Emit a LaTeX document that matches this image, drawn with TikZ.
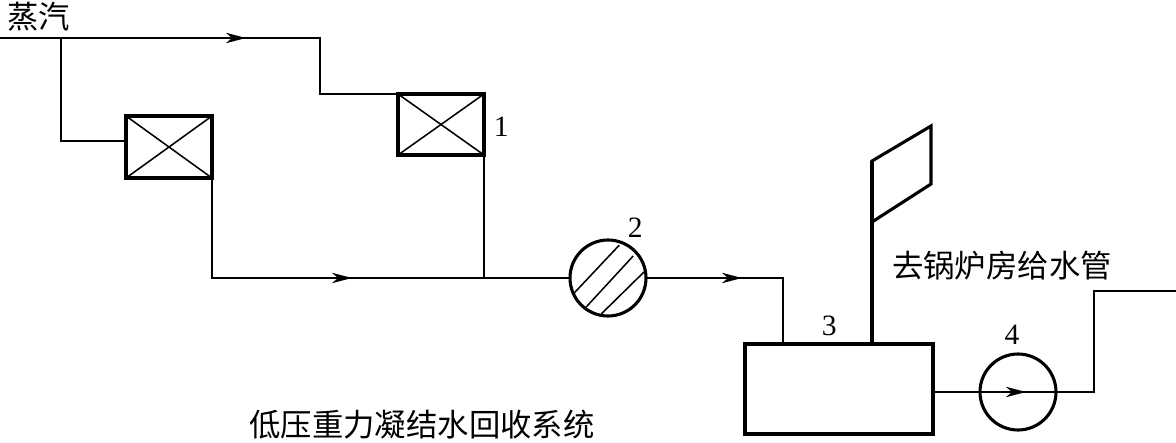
\documentclass[tikz,border=0pt]{standalone}
\usepackage{fontspec}
\setmainfont{Liberation Serif}
\newfontfamily\cjk{Noto Sans CJK SC}
\usetikzlibrary{
    arrows.meta,
    positioning
}
\tikzset{
    % Trap box style
    trapbox/.style={
        rectangle,
        minimum width=2.15cm,
        minimum height=1.55cm,
        outer sep=0pt,
        draw=black,
        line width=2.2pt
    },
    % Round equipment style
    roundunit/.style={
        circle,
        minimum size=1.9cm,
        inner sep=0pt,
        outer sep=0pt,
        draw=black,
        line width=2.2pt
    },
    % Pipe styles
    pipe/.style={
        line width=1.1pt,
        color=black
    },
    flow/.style={
        -{Stealth[length=5mm, width=2.6mm, inset=1.5mm]},
        line width=1.1pt,
        color=black
    },
    heavypipe/.style={
        line width=2.2pt,
        line join=miter,
        color=black
    },
    % Label styles
    number/.style={
        font=\fontsize{21}{24}\selectfont,
        inner sep=0pt
    },
    caption/.style={
        font=\cjk\fontsize{22.3}{26}\selectfont,
        inner sep=0pt
    }
}
\begin{document}
\begin{tikzpicture}
        \useasboundingbox (0, 0) rectangle (29.4, -11.05);
        
        % Equipment
        \node[trapbox] (trapA) at (4.225, -3.675) {};
        \node[trapbox, minimum height=1.525cm] (trapB) at (11.025, -3.1125) {};
        \node[roundunit] (filter) at (15.2, -6.95) {};
        \node[trapbox, minimum width=4.7cm, minimum height=2.25cm] (tank) at (20.975, -9.725) {};
        \node[roundunit] (pump) at (25.45, -9.8) {};
        
        % Trap crosses
        \draw[pipe] (trapA.north west) -- (trapA.south east);
        \draw[pipe] (trapA.south west) -- (trapA.north east);
        \draw[pipe] (trapB.north west) -- (trapB.south east);
        \draw[pipe] (trapB.south west) -- (trapB.north east);
        
        % Filter hatching
        \draw[pipe] (14.35, -7.33) -- (15.48, -6.13);
        \draw[pipe] (14.65, -7.68) -- (15.83, -6.4);
        \draw[pipe] (15.03, -7.85) -- (16.1, -6.8);
        
        % Pipe points
        \coordinate (steam) at (0, -0.95);
        \coordinate (branch) at (1.525, -0.95);
        \coordinate (arrowA) at (6.15, -0.95);
        \coordinate (drop) at (8, -0.95);
        \coordinate (entryA) at (3.15, -3.525);
        \coordinate (arrowB) at (8.8, -6.95);
        \coordinate (merge) at (12.1, -6.95);
        \coordinate (arrowC) at (18.55, -6.95);
        \coordinate (inlet) at (19.575, -6.95);
        \coordinate (arrowD) at (25.65, -9.8);
        \coordinate (rise) at (27.35, -9.8);
        \coordinate (outlet) at (29.4, -7.275);
        \coordinate (ventTop) at (21.8, -4.025);
        \coordinate (ventBase) at (21.8, -5.55);
        
        % Steam lines
        \draw[flow] (steam) -- (arrowA);
        \draw[pipe] (steam) -- (drop) |- (trapB.north west);
        \draw[pipe] (branch) |- (entryA);
        
        % Condensate lines
        \draw[flow] (trapA.south east) |- (arrowB);
        \draw[pipe] (trapA.south east) |- (filter.west);
        \draw[pipe] (trapB.south east) -- (merge);
        \draw[flow] (filter.east) -- (arrowC);
        \draw[pipe] (filter.east) -- (inlet) -- (inlet |- tank.north);
        
        % Feed line through pump
        \draw[flow] (tank.east |- pump) -- (arrowD);
        \draw[pipe] (tank.east |- pump) -- (rise) |- (outlet);
        
        % Vent pipe and flag
        \draw[heavypipe] (ventBase |- tank.north) -- (ventTop);
        \draw[heavypipe] (ventTop) -- (23.275, -3.15) -- (23.275, -4.6) -- (ventBase) -- cycle;
        
        % Labels
        \node[caption] (steamLabel) at (0.975, -0.42) {蒸汽};
        \node[caption] (feedLabel) at (25.05, -6.63) {去锅炉房给水管};
        \node[caption] (title) at (10.55, -10.62) {低压重力凝结水回收系统};
        \node[number] (numA) at (12.53, -3.18) {1};
        \node[number] (numB) at (15.88, -5.7) {2};
        \node[number] (numC) at (20.73, -8.15) {3};
        \node[number] (numD) at (25.3, -8.38) {4};
        
    \end{tikzpicture}
\end{document}
